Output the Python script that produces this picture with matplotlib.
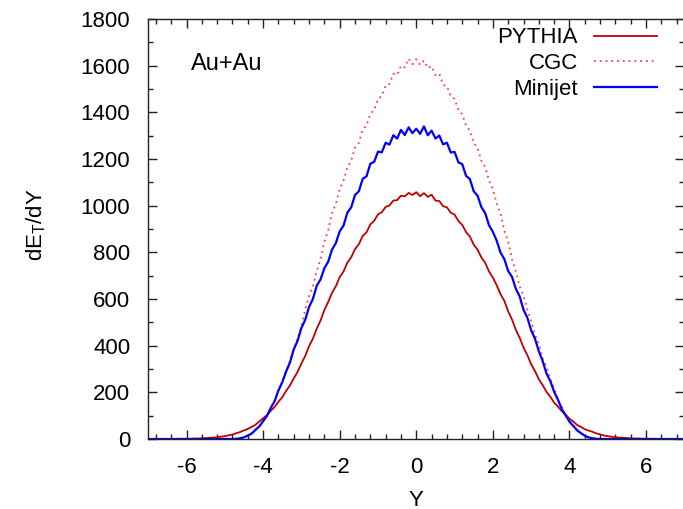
import numpy as np
import matplotlib
matplotlib.use("Agg")
import matplotlib.pyplot as plt
from matplotlib.ticker import MultipleLocator

plt.rcParams['font.family'] = ['Liberation Sans', 'DejaVu Sans']
plt.rcParams['mathtext.fontset'] = 'custom'
plt.rcParams['mathtext.rm'] = 'Liberation Sans'
plt.rcParams['mathtext.it'] = 'Liberation Sans'
plt.rcParams['axes.unicode_minus'] = False

# rapidity grid, -7.0 .. 7.0 in steps of 0.1
y_rap = np.round(np.arange(-70, 71) / 10.0, 1)

pythia = [
    0, 0, 0, 0, 0, 0, 0, 0, 1, 1,
    1, 1, 2, 2, 3, 4, 5, 6, 8, 10,
    12, 16, 19, 25, 30, 37, 43, 52, 61, 75,
    89, 102, 121, 137, 160, 179, 206, 229, 260, 288,
    324, 356, 398, 430, 473, 508, 553, 588, 627, 655,
    694, 718, 756, 779, 814, 835, 870, 886, 920, 935,
    963, 972, 995, 1001, 1022, 1024, 1043, 1040, 1055, 1046,
    1058,
    1041, 1054, 1038, 1047, 1022, 1020, 998, 993, 970, 962,
    934, 918, 887, 868, 833, 812, 778, 755, 718, 692,
    659, 621, 592, 547, 512, 468, 434, 392, 360, 320,
    291, 256, 231, 202, 181, 156, 139, 119, 104, 87,
    75, 60, 52, 42, 36, 31, 24, 20, 15, 12,
    10, 8, 6, 5, 4, 3, 2, 2, 1, 1,
    1, 1, 0, 0, 0, 0, 0, 0, 0, 0,
]

cgc = [
    0, 0, 0, 0, 0, 0, 0, 0, 0, 0,
    0, 0, 0, 0, 0, 0, 0, 0, 0, 0,
    0, 0, 0, 1, 3, 7, 14, 24, 38, 55,
    76, 100, 132, 166, 206, 248, 290, 335, 385, 432,
    482, 556, 614, 655, 720, 770, 846, 895, 968, 1008,
    1070, 1108, 1165, 1193, 1250, 1270, 1326, 1344, 1395, 1410,
    1458, 1470, 1516, 1522, 1565, 1560, 1600, 1592, 1630, 1606,
    1628,
    1604, 1622, 1590, 1598, 1560, 1566, 1518, 1512, 1470, 1458,
    1410, 1392, 1342, 1322, 1270, 1248, 1192, 1166, 1108, 1072,
    1008, 966, 893, 846, 770, 720, 654, 615, 555, 505,
    446, 408, 346, 308, 257, 218, 168, 137, 103, 81,
    58, 40, 26, 15, 8, 3, 1, 0, 0, 0,
    0, 0, 0, 0, 0, 0, 0, 0, 0, 0,
    0, 0, 0, 0, 0, 0, 0, 0, 0, 0,
]

minijet = [
    0, 0, 0, 0, 0, 0, 0, 0, 0, 0,
    0, 0, 0, 0, 0, 0, 0, 0, 0, 0,
    0, 0, 0, 1, 3, 7, 15, 23, 39, 54,
    76, 99, 133, 162, 208, 243, 289, 327, 384, 421,
    476, 511, 566, 600, 657, 684, 732, 760, 812, 840,
    890, 915, 970, 993, 1046, 1062, 1115, 1126, 1180, 1188,
    1232, 1229, 1270, 1262, 1302, 1288, 1325, 1303, 1336, 1311,
    1330,
    1308, 1340, 1302, 1322, 1288, 1301, 1263, 1270, 1228, 1231,
    1186, 1178, 1128, 1114, 1062, 1043, 994, 968, 916, 888,
    850, 799, 771, 720, 695, 644, 611, 554, 520, 466,
    430, 376, 334, 281, 248, 202, 168, 128, 101, 74,
    56, 37, 25, 14, 7, 3, 1, 0, 0, 0,
    0, 0, 0, 0, 0, 0, 0, 0, 0, 0,
    0, 0, 0, 0, 0, 0, 0, 0, 0, 0,
]

fig = plt.figure(figsize=(6.83, 5.09), dpi=100)
ax = fig.add_axes([0.217, 0.1375, 0.785, 0.825])

ax.plot(y_rap, pythia, color='#c00000', lw=1.3, label='PYTHIA')
ax.plot(y_rap, cgc, color='#ff4040', lw=1.3, ls=(0, (1, 2.2)), label='CGC')
ax.plot(y_rap, minijet, color='#0000ff', lw=1.6, label='Minijet')

ax.set_xlim(-7, 7)
ax.set_ylim(0, 1800)
ax.xaxis.set_major_locator(MultipleLocator(2))
ax.xaxis.set_minor_locator(MultipleLocator(0.4))
ax.yaxis.set_major_locator(MultipleLocator(200))
ax.yaxis.set_minor_locator(MultipleLocator(100))
ax.tick_params(which='both', direction='in', top=True, right=True,
               labelsize=16, width=1.0, color='#222222')
ax.tick_params(which='major', length=6.5, pad=13)
ax.tick_params(which='minor', length=3.5)
for s in ax.spines.values():
    s.set_linewidth(1.0)
    s.set_color('#222222')

ax.set_xlabel('Y', fontsize=16)
ax.xaxis.set_label_coords(0.5, -0.122)
ax.set_ylabel(r'dE$_{\rm T}$/dY', fontsize=16)
ax.yaxis.set_label_coords(-0.187, 0.51)

ax.text(0.08, 0.893, 'Au+Au', transform=ax.transAxes, fontsize=17,
        ha='left', va='center')

ax.legend(loc='upper right', bbox_to_anchor=(657 / 683, 0.946),
          bbox_transform=fig.transFigure, frameon=False, markerfirst=False,
          fontsize=16, handlelength=2.85, handletextpad=0.7,
          labelspacing=0.21, borderpad=0, borderaxespad=0)

fig.savefig('out.png', dpi=100)
